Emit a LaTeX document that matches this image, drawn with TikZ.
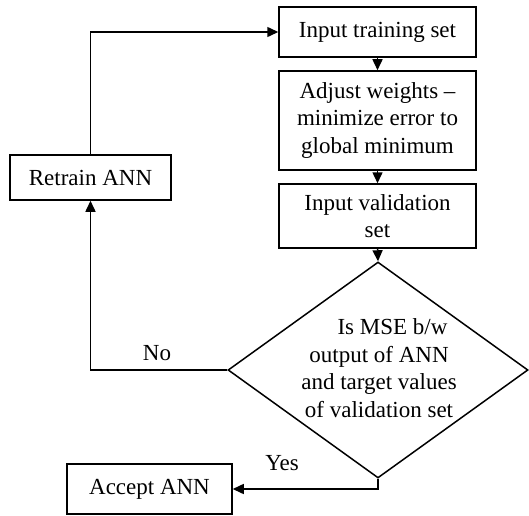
\documentclass[tikz,border=0pt]{standalone}
\usepackage{fontspec}
\setmainfont{Liberation Serif}
\usetikzlibrary{shapes.geometric,arrows.meta}
\begin{document}
\begin{tikzpicture}[x=1pt,y=1pt,
  font=\fontsize{23}{27.5}\selectfont,
  box/.style={draw,line width=1.5pt,inner sep=0pt,align=center},
  arr/.style={line width=1.5pt,-{Triangle[length=11pt,width=10pt]}}]
\useasboundingbox (0,0) rectangle (529,515);
\node[box,minimum width=197,minimum height=50] (train) at (377.5,483) {Input training set};
\node[box,minimum width=197,minimum height=99] (adjust) at (377.5,394.5) {Adjust weights --\\minimize error to\\global minimum};
\node[box,minimum width=197,minimum height=64] (valid) at (377.5,299) {Input validation\\set};
\node[box,minimum width=161,minimum height=45] (retrain) at (90.5,337.5) {Retrain ANN};
\node[box,minimum width=165,minimum height=50] (accept) at (149.5,26) {Accept ANN};
\node[draw,diamond,line width=1.5pt,inner sep=0pt,minimum width=300,minimum height=216] (dia) at (378,145) {};
\node[align=center,inner sep=0pt] (diatext) at (379,147) {\hspace*{27pt}Is MSE b/w\\output of ANN\\and target values\\of validation set};
\node (no) at (157,162) {No};
\node (yes) at (282,52) {Yes};
\draw[arr] (train.south) -- (adjust.north);
\draw[arr] (adjust.south) -- (valid.north);
\draw[arr] (valid.south) -- (dia.north);
\draw[arr] (dia.west) -| (retrain.south);
\draw[arr] (retrain.north) |- (train.west);
\draw[arr] (dia.south) |- (accept.east);
\end{tikzpicture}
\end{document}
